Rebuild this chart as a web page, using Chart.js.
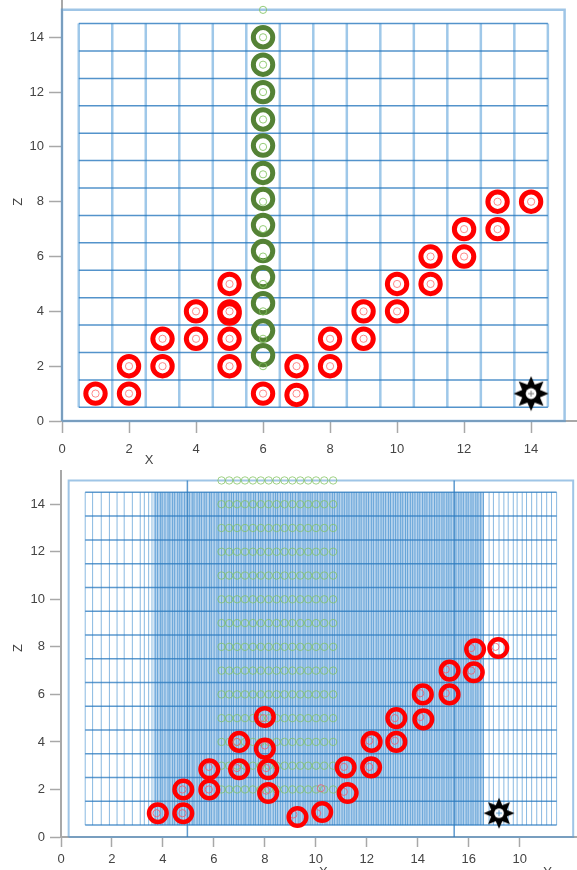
<!DOCTYPE html>
<html lang="en">
<head>
<meta charset="UTF-8">
<title>X-Z / X-Y</title>
<script src="https://cdn.jsdelivr.net/npm/chart.js"></script>
<style>
  html, body { margin: 0; padding: 0; background: #fff; }
  .box { position: relative; width: 577px; }
  #topBox { height: 470px; }
  #bottomBox { height: 400px; }
</style>
</head>
<body>
<div class="box" id="topBox"><canvas id="topChart"></canvas></div>
<div class="box" id="bottomBox"><canvas id="bottomChart"></canvas></div>
<script>
// ---------- top panel: X against Z ----------
const topXTicks = [0, 2, 4, 6, 8, 10, 12, 14];
const topZTicks = [0, 2, 4, 6, 8, 10, 12, 14];
const topGrid = [0.5, 1.5, 2.5, 3.5, 4.5, 5.5, 6.5, 7.5, 8.5, 9.5, 10.5, 11.5, 12.5, 13.5, 14.5];
const topFrameX = [0, 0, 15, 15, 0];
const topFrameZ = [0, 15, 15, 0, 0];

const topRedX = [1, 2, 2, 3, 3, 4, 4, 5, 5, 5, 5, 5, 6, 7, 7, 8, 8, 9, 9, 10, 10, 11, 11, 12, 12, 13, 13, 14];
const topRedZ = [1, 1, 2, 2, 3, 3, 4, 2, 3, 4, 3.92, 5, 1, 0.95, 2, 2, 3, 3, 4, 4, 5, 5, 6, 6, 7, 7, 8, 8];
const topRedInnerX = [1, 2, 2, 3, 3, 4, 4, 5, 5, 5, 5, 6, 7, 7, 8, 8, 9, 9, 10, 10, 11, 11, 12, 12, 13, 13, 14];
const topRedInnerZ = [1, 1, 2, 2, 3, 3, 4, 2, 3, 4, 5, 1, 1, 2, 2, 3, 3, 4, 4, 5, 5, 6, 6, 7, 7, 8, 8];

const topGreenX = [6, 6, 6, 6, 6, 6, 6, 6, 6, 6, 6, 6, 6];
const topGreenZ = [14, 13, 12, 11, 10.05, 9.05, 8.1, 7.15, 6.2, 5.25, 4.3, 3.3, 2.4];
const topGreenInnerX = [6, 6, 6, 6, 6, 6, 6, 6, 6, 6, 6, 6, 6, 6];
const topGreenInnerZ = [15, 14, 13, 12, 11, 10, 9, 8, 7, 6, 5, 4, 3, 2];

const topStarX = [14];
const topStarZ = [1];

// ---------- bottom panel: X / Y against Z ----------
const botXTicks = [0, 2, 4, 6, 8, 10, 12, 14, 16, 18];
const botXLabels = ['0', '2', '4', '6', '8', '10', '12', '14', '16', '10'];
const botZTicks = [0, 2, 4, 6, 8, 10, 12, 14];
const botRows = [0.5, 1.5, 2.5, 3.5, 4.5, 5.5, 6.5, 7.5, 8.5, 9.5, 10.5, 11.5, 12.5, 13.5, 14.5];
const botCols = [
  0.95, 1.24, 1.58, 1.9, 2.2, 2.48, 2.8, 3.11, 3.27, 3.44, 3.57,
  3.7, 3.79, 3.9, 3.97, 4.08, 4.2, 4.27, 4.38, 4.46, 4.58, 4.66, 4.74, 4.85, 5.04, 5.15,
  5.22, 5.34, 5.43, 5.51, 5.62, 5.7, 5.83, 5.9, 6.01, 6.12, 6.19, 6.3, 6.41, 6.48, 6.6,
  6.69, 6.77, 6.88, 6.96, 7.07, 7.18, 7.25, 7.37, 7.45, 7.56, 7.63, 7.75, 7.84, 7.92,
  8.03, 8.14, 8.21, 8.33, 8.42, 8.5, 8.61, 8.7, 8.82, 8.9, 9.01, 9.09, 9.2, 9.31, 9.38,
  9.5, 9.58, 9.69, 9.78, 9.86, 9.97, 10.06, 10.17, 10.25, 10.36, 10.44, 10.55, 10.65,
  10.73, 10.84, 10.92, 11.03, 11.12, 11.22, 11.3, 11.41, 11.5, 11.59, 11.7, 11.78, 11.89,
  11.98, 12.07, 12.18, 12.26, 12.37, 12.45, 12.56, 12.65, 12.74, 12.85, 12.93, 13.04,
  13.13, 13.22, 13.33, 13.41, 13.52, 13.6, 13.71, 13.8, 13.89, 14.0, 14.08, 14.19, 14.28,
  14.36, 14.47, 14.55, 14.66, 14.75, 14.84, 14.95, 15.03, 15.14, 15.22, 15.31, 15.5,
  15.61, 15.7, 15.79, 15.9, 15.98, 16.09, 16.17, 16.28, 16.36, 16.47, 16.58,
  16.8, 16.97, 17.19, 17.38, 17.55, 17.75, 17.9, 18.1, 18.27, 18.47, 18.67, 18.86,
  19.06, 19.25, 19.45
];
const botBand = [3.62, 16.6];
const botFrameX = [0.3, 0.3, 20.1, 20.1, 0.3];
const botFrameZ = [0, 15, 15, 0, 0];
const botDividers = [4.96, 15.43];

const botRedX = [3.8, 4.8, 4.8, 5.82, 5.82, 6.99, 6.99, 8.0, 8.0, 8.13, 8.13, 9.28, 10.25,
  11.25, 11.17, 12.17, 12.19, 13.16, 13.16, 14.22, 14.2, 15.25, 15.25, 16.2, 16.25, 17.16];
const botRedZ = [1.0, 1.0, 2.0, 2.0, 2.85, 2.85, 4.0, 5.05, 3.72, 2.85, 1.85, 0.84, 1.05,
  1.85, 2.93, 2.93, 4.0, 4.0, 5.0, 4.95, 6.0, 6.0, 7.0, 6.93, 7.9, 7.95];
const botRedInnerX = [3.75, 4.77, 4.77, 5.8, 5.8, 6.9, 6.9, 7.95, 8.0, 8.05, 8.05, 9.12, 10.05,
  10.2, 11.1, 11.1, 12.1, 12.1, 13.1, 13.1, 14.1, 14.1, 15.1, 15.1, 16.1, 16.1, 17.05];
const botRedInnerZ = [1.0, 1.0, 2.0, 2.0, 2.95, 2.9, 4.0, 5.0, 3.85, 2.9, 1.95, 0.95, 1.0,
  2.05, 1.9, 2.95, 2.95, 4.05, 4.05, 5.0, 5.05, 6.05, 6.05, 7.05, 7.0, 7.95, 8.0];

const botGreenX = [6.3, 6.6, 6.91, 7.22, 7.53, 7.84, 8.15, 8.46, 8.77, 9.08, 9.39, 9.7, 10.01, 10.33, 10.68];
const botGreenZ = [15, 14, 13, 12, 11, 10, 9, 8, 7, 6, 5, 4, 3, 2];

const botStarX = [17.19];
const botStarZ = [1.0];

const xTitle = 'X', yTitle = 'Y', zTitle = 'Z';

// ---------- helpers ----------
function pts(xs, zs) { return xs.map((x, i) => ({ x: x, y: zs[i] })); }
function segs(list) {
  const out = [];
  list.forEach(s => out.push({ x: s[0], y: s[1] }, { x: s[2], y: s[3] }, { x: s[2], y: null }));
  return out;
}
function lineSet(data, color, width, order) {
  return { data: data, showLine: true, spanGaps: false, pointRadius: 0, fill: false,
           borderColor: color, borderWidth: width, order: order, clip: false };
}
function markSet(data, opts, order) {
  return Object.assign({ data: data, showLine: false, order: order, pointStyle: 'circle',
    pointBackgroundColor: 'rgba(255,255,255,0)' }, opts);
}
function makeStar(size, dot) {
  const c = document.createElement('canvas');
  c.width = size; c.height = size;
  const g = c.getContext('2d');
  const m = size / 2, ro = size / 2 - 0.5, ri = ro * 0.55;
  g.beginPath();
  for (let i = 0; i < 16; i++) {
    const r = i % 2 ? ri : ro;
    const a = -Math.PI / 2 + i * Math.PI / 8;
    g.lineTo(m + r * Math.cos(a), m + r * Math.sin(a));
  }
  g.closePath();
  g.fillStyle = '#000';
  g.fill();
  g.beginPath();
  g.arc(m, m, size * 0.15, 0, Math.PI * 2);
  g.fillStyle = '#fff';
  g.fill();
  g.strokeStyle = dot;
  g.lineWidth = 1;
  g.beginPath();
  g.moveTo(m - 3, m); g.lineTo(m + 3, m);
  g.moveTo(m, m - 3); g.lineTo(m, m + 3);
  g.stroke();
  return c;
}

const FONT = { family: '"Liberation Sans", Arial, sans-serif', size: 13 };
const AXIS_GREY = '#a8a8a8';

// draws the axis names (X, Y under the axis, Z rotated at the left)
const axisNames = {
  id: 'axisNames',
  afterDraw(chart, args, opts) {
    const ctx = chart.ctx, xs = chart.scales.x, ys = chart.scales.y;
    ctx.save();
    ctx.font = '13px "Liberation Sans", Arial, sans-serif';
    ctx.fillStyle = '#444';
    ctx.textAlign = 'center';
    ctx.textBaseline = 'top';
    opts.names.forEach(n => ctx.fillText(n.text, xs.getPixelForValue(n.at), chart.chartArea.bottom + opts.gap));
    ctx.translate(opts.zLeft, ys.getPixelForValue(opts.zAt));
    ctx.rotate(-Math.PI / 2);
    ctx.textBaseline = 'middle';
    ctx.fillText(zTitle, 0, 0);
    ctx.restore();
  }
};

function scaleOpts(max, ticks, labels, fitKey, fitVal, tickLen, pad) {
  return {
    type: 'linear', min: 0, max: max,
    afterBuildTicks: s => { s.ticks = ticks.map(v => ({ value: v })); },
    afterFit: s => {
      s[fitKey] = fitVal;
      s.paddingTop = 0; s.paddingBottom = 0; s.paddingLeft = 0; s.paddingRight = 0;
    },
    grid: { display: true, drawOnChartArea: false, drawTicks: true, tickLength: tickLen, tickColor: AXIS_GREY, tickWidth: 1.5 },
    border: { display: true, color: AXIS_GREY, width: 2 },
    ticks: { font: FONT, color: '#444', padding: pad, maxRotation: 0, autoSkip: false,
             callback: (v, i) => labels ? labels[i] : String(v) }
  };
}

function baseOptions(xs, ys, names, zAt) {
  return {
    responsive: true, maintainAspectRatio: false, animation: false, events: [],
    layout: { padding: 0, autoPadding: false },
    scales: { x: xs, y: ys },
    plugins: { legend: { display: false }, tooltip: { enabled: false },
               axisNames: { names: names, gap: 0, zLeft: 18, zAt: zAt } }
  };
}

// ---------- top chart ----------
const topLines = [];
topGrid.forEach(g => topLines.push([g, 0.5, g, 14.5]));
const topRowsSeg = [];
topGrid.forEach(g => topRowsSeg.push([0.5, g, 14.5, g]));

const topOpts = baseOptions(
  scaleOpts(15.37, topXTicks, null, 'height', 49, 12, 9),
  scaleOpts(15.36, topZTicks, null, 'width', 62, 13, 5),
  [{ text: xTitle, at: 2.6 }], 8);
topOpts.plugins.axisNames.gap = 33;

new Chart(document.getElementById('topChart'), {
  type: 'line',
  data: { datasets: [
    lineSet(pts(topFrameX, topFrameZ), 'rgba(80,150,210,0.55)', 2.5, 20),
    lineSet(segs(topLines), 'rgba(80,155,215,0.55)', 2.5, 19),
    lineSet(segs(topRowsSeg), 'rgba(40,120,190,0.8)', 1.5, 18),
    markSet(pts(topRedX, topRedZ), { pointRadius: 9.7, pointBorderWidth: 5, pointBorderColor: '#ff0000' }, 5),
    markSet(pts(topRedInnerX, topRedInnerZ), { pointRadius: 3.6, pointBorderWidth: 1, pointBorderColor: 'rgba(255,110,110,0.8)' }, 4),
    markSet(pts(topGreenX, topGreenZ), { pointRadius: 9.7, pointBorderWidth: 5, pointBorderColor: '#548235' }, 5),
    markSet(pts(topGreenInnerX, topGreenInnerZ), { pointRadius: 3.6, pointBorderWidth: 1, pointBorderColor: 'rgba(130,195,95,0.85)' }, 4),
    markSet(pts(topStarX, topStarZ), { pointStyle: makeStar(36, '#777'), pointRadius: 18 }, 1)
  ] },
  options: topOpts,
  plugins: [axisNames]
});

// ---------- bottom chart ----------
const botVert = [];
botCols.forEach(c => botVert.push([c, 0.5, c, 14.5]));
const botHoriz = [];
botRows.forEach(r => botHoriz.push([0.95, r, 19.45, r]));
const botDiv = [];
botDividers.forEach(d => botDiv.push([d, 0, d, 15]));
const botGreen = [];
botGreenZ.forEach(z => botGreenX.forEach(x => botGreen.push({ x: x, y: z })));

const botOpts = baseOptions(
  scaleOpts(20.25, botXTicks, botXLabels, 'height', 33, 10, 5),
  scaleOpts(15.44, botZTicks, null, 'width', 61, 11, 5),
  [{ text: xTitle, at: 10.3 }, { text: yTitle, at: 19.1 }], 7.95);
botOpts.plugins.axisNames.gap = 29;

new Chart(document.getElementById('bottomChart'), {
  type: 'line',
  data: { datasets: [
    Object.assign(lineSet(pts(botBand, [14.5, 14.5]), 'rgba(0,0,0,0)', 0, 22),
                  { fill: { value: 0.5 }, backgroundColor: 'rgba(110,168,220,0.5)' }),
    lineSet(pts(botFrameX, botFrameZ), 'rgba(80,150,210,0.55)', 2, 21),
    lineSet(segs(botVert), 'rgba(40,128,200,0.55)', 1, 20),
    lineSet(segs(botHoriz), 'rgba(40,120,190,0.75)', 1.5, 19),
    lineSet(segs(botDiv), 'rgba(40,120,190,0.75)', 1.5, 18),
    markSet(botGreen, { pointRadius: 3.7, pointBorderWidth: 1, pointBorderColor: 'rgba(130,195,95,0.75)' }, 6),
    markSet(pts(botRedInnerX, botRedInnerZ), { pointRadius: 3.6, pointBorderWidth: 1, pointBorderColor: 'rgba(240,90,110,0.8)' }, 5),
    markSet(pts(botRedX, botRedZ), { pointRadius: 8.8, pointBorderWidth: 4.5, pointBorderColor: '#ff0000' }, 4),
    markSet(pts(botStarX, botStarZ), { pointStyle: makeStar(32, '#4a8fc8'), pointRadius: 16 }, 1)
  ] },
  options: botOpts,
  plugins: [axisNames]
});
</script>
</body>
</html>
